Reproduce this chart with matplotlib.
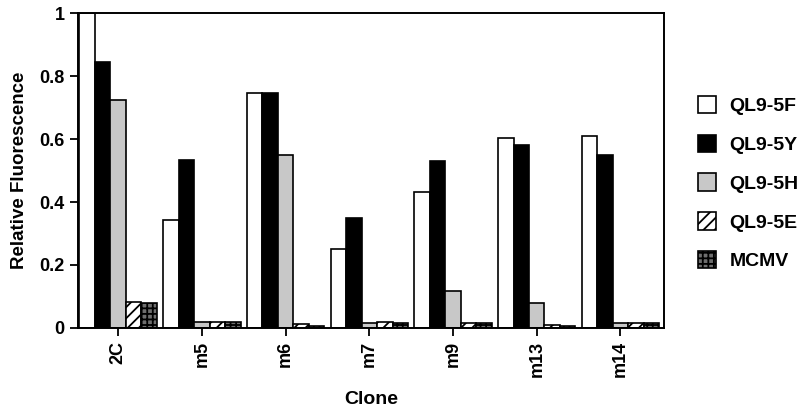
import numpy as np
import matplotlib.pyplot as plt
from matplotlib.patches import Patch

plt.rcParams['font.family'] = ['Liberation Sans', 'DejaVu Sans']
plt.rcParams['font.weight'] = 'bold'
plt.rcParams['hatch.linewidth'] = 1.3

# Data
clones = ['2C', 'm5', 'm6', 'm7', 'm9', 'm13', 'm14']
ql9_5f = [1.0, 0.343, 0.745, 0.252, 0.432, 0.605, 0.61]
ql9_5y = [0.845, 0.535, 0.745, 0.35, 0.531, 0.581, 0.551]
ql9_5h = [0.724, 0.019, 0.549, 0.017, 0.117, 0.078, 0.017]
ql9_5e = [0.083, 0.019, 0.012, 0.02, 0.017, 0.01, 0.017]
mcmv = [0.078, 0.02, 0.006, 0.016, 0.017, 0.006, 0.017]

series = [
    ('QL9-5F', ql9_5f, 'white', ''),
    ('QL9-5Y', ql9_5y, 'black', ''),
    ('QL9-5H', ql9_5h, '#c8c8c8', ''),
    ('QL9-5E', ql9_5e, 'white', '///'),
    ('MCMV', mcmv, '#6e6e6e', '+++'),
]

fig = plt.figure(figsize=(8, 4.12), dpi=100)
ax = fig.add_axes([0.0975, 0.204, 0.7325, 0.764])

x = np.arange(len(clones))
w = 0.185
handles = []
for i, (name, vals, fc, hatch) in enumerate(series):
    ax.bar(x + (i - 2) * w, vals, width=w, color=fc, edgecolor='black',
           linewidth=1.2, hatch=hatch)
    handles.append(Patch(facecolor=fc, edgecolor='black', hatch=hatch, linewidth=1.2, label=name))

ax.set_xlim(-0.48, 6.52)
ax.set_ylim(0, 1)
ax.set_yticks([0, 0.2, 0.4, 0.6, 0.8, 1])
ax.set_yticklabels(['0', '0.2', '0.4', '0.6', '0.8', '1'], fontsize=13, fontweight='bold')
ax.set_xticks(x)
ax.set_xticklabels(clones, rotation=90, fontsize=13, fontweight='bold')
ax.tick_params(direction='out', length=6, width=1.3)
for s in ax.spines.values():
    s.set_linewidth(1.4)

ax.set_ylabel('Relative Fluorescence', fontsize=13.5, fontweight='bold', labelpad=8)
ax.set_xlabel('Clone', fontsize=14, fontweight='bold', labelpad=10)

fig.legend(handles=handles, loc='upper left', bbox_to_anchor=(0.85, 0.81),
           frameon=False, handlelength=0.95, handleheight=1.0,
           labelspacing=1.0, handletextpad=0.7,
           prop={'weight': 'bold', 'size': 14})

fig.savefig('out.png', dpi=100)
